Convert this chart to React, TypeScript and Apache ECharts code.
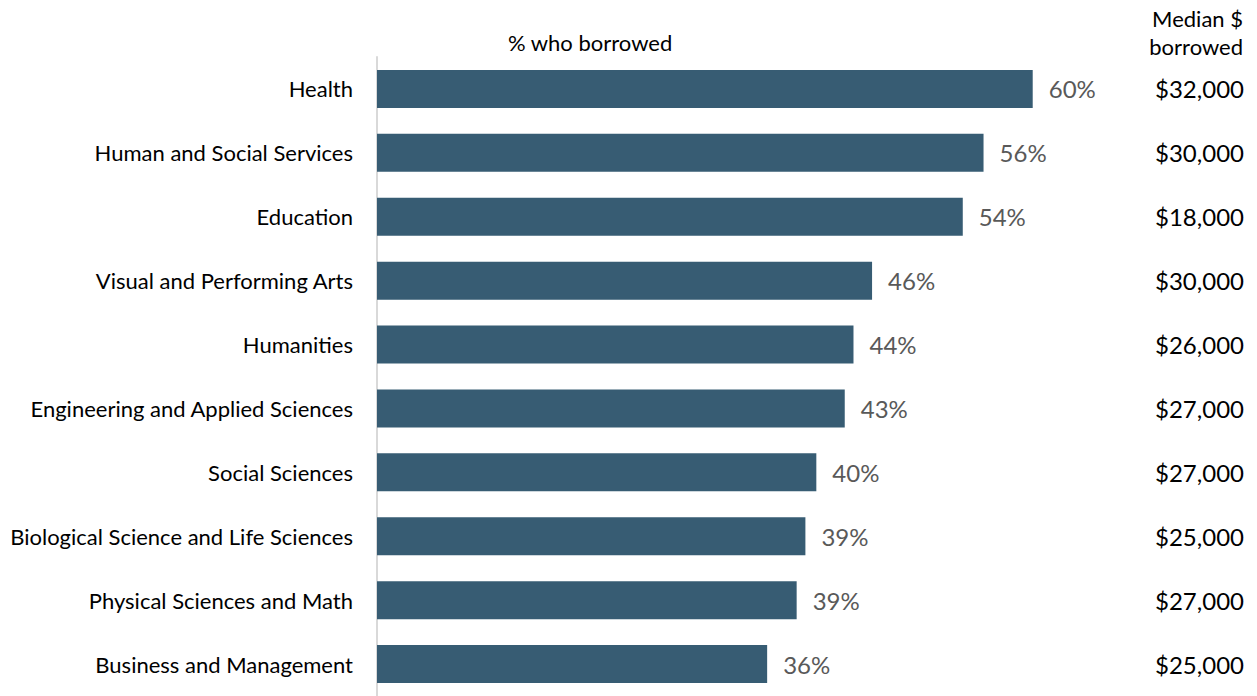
import React, { useEffect, useRef } from "react";
import * as echarts from "echarts";

const categories = [
  "Health",
  "Human and Social Services",
  "Education",
  "Visual and Performing Arts",
  "Humanities",
  "Engineering and Applied Sciences",
  "Social Sciences",
  "Biological Science and Life Sciences",
  "Physical Sciences and Math",
  "Business and Management",
];
const pctBorrowed = [60, 55.5, 53.6, 45.3, 43.6, 42.8, 40.2, 39.2, 38.4, 35.7];
const pctLabels = ["60%", "56%", "54%", "46%", "44%", "43%", "40%", "39%", "39%", "36%"];
const medianBorrowed = ["$32,000", "$30,000", "$18,000", "$30,000", "$26,000", "$27,000", "$27,000", "$25,000", "$27,000", "$25,000"];

const FONT = "Lato";

export default function App() {
  const ref = useRef<HTMLDivElement>(null);
  useEffect(() => {
    document.body.style.margin = "0";
    const chart = echarts.init(ref.current!, null, { renderer: "svg" });
    const cats = [...categories].reverse();
    const vals = [...pctBorrowed].reverse();
    const labs = [...pctLabels].reverse();
    const meds = [...medianBorrowed].reverse();
    chart.setOption({
      animation: false,
      textStyle: { fontFamily: FONT },
      grid: { left: 377, top: 57, width: 765, height: 643 },
      xAxis: {
        type: "value",
        min: 0,
        max: 70,
        show: false,
      },
      yAxis: [
        {
          type: "category",
          data: cats,
          position: "left",
          axisLine: { show: true, lineStyle: { color: "#d9d9d9", width: 2 } },
          axisTick: { show: false },
          axisLabel: { color: "#000", fontSize: 22, fontFamily: FONT, margin: 24 },
        },
        {
          type: "category",
          data: meds,
          position: "right",
          axisLine: { show: false },
          axisTick: { show: false },
          axisLabel: { color: "#000", fontSize: 24, fontFamily: FONT, margin: 102, align: "right" },
        },
      ],
      series: [
        {
          type: "bar",
          data: vals,
          barWidth: 38,
          itemStyle: { color: "#375c73" },
          label: {
            show: true,
            position: "right",
            distance: 16,
            color: "#595959",
            fontSize: 24,
            fontFamily: FONT,
            formatter: (p: any) => labs[p.dataIndex],
          },
        },
      ],
      graphic: [
        { type: "text", left: 508, top: 31, style: { text: "% who borrowed", fontSize: 22, fontFamily: FONT, fill: "#000" } },
        { type: "text", right: 14, top: 7, style: { text: "Median $", fontSize: 22, fontFamily: FONT, fill: "#000", align: "right" } },
        { type: "text", right: 14, top: 35, style: { text: "borrowed", fontSize: 22, fontFamily: FONT, fill: "#000", align: "right" } },
      ],
    });
    return () => chart.dispose();
  }, []);
  return <div ref={ref} style={{ width: 1257, height: 696 }} />;
}
